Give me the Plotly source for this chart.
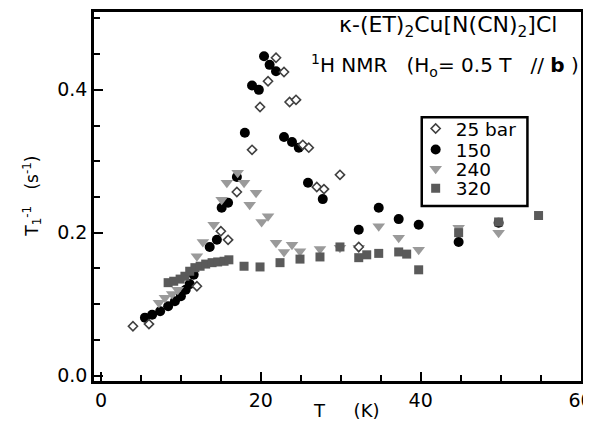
import plotly.graph_objects as go

# 25 bar (open diamonds)
T_25 = [4.0, 6.0, 12.0, 15.0, 15.9, 17.0, 18.9, 19.9, 20.9, 21.9, 22.9, 23.6, 24.4,
        25.25, 26.0, 27.0, 27.9, 29.9, 32.25]
R_25 = [0.069, 0.072, 0.125, 0.202, 0.190, 0.257, 0.316, 0.376, 0.412, 0.445, 0.425,
        0.383, 0.386, 0.323, 0.319, 0.264, 0.261, 0.281, 0.180]

# 150 bar (filled circles)
T_150 = [5.5, 6.4, 7.4, 8.4, 9.25, 10.0, 10.6, 11.1, 11.6, 13.6, 14.5, 15.1, 15.9, 17.0,
         18.0, 18.9, 19.75, 20.4, 21.1, 21.9, 22.9, 23.9, 24.75, 25.9, 27.75, 32.25,
         34.75, 37.25, 39.75, 44.75, 49.75]
R_150 = [0.081, 0.085, 0.090, 0.097, 0.104, 0.111, 0.120, 0.128, 0.141, 0.180, 0.190,
         0.235, 0.242, 0.278, 0.340, 0.406, 0.400, 0.447, 0.435, 0.426, 0.334, 0.327,
         0.319, 0.270, 0.247, 0.204, 0.235, 0.219, 0.211, 0.187, 0.214]

# 240 bar (down triangles)
T_240 = [7.25, 8.0, 8.9, 9.6, 12.0, 12.75, 14.1, 15.1, 15.75, 17.1, 17.9, 19.4, 18.6,
         20.9, 20.1, 21.9, 22.9, 23.9, 24.9, 27.4, 29.9, 32.25, 34.75, 37.25, 39.75,
         44.75, 49.75]
R_240 = [0.102, 0.109, 0.114, 0.120, 0.167, 0.187, 0.211, 0.246, 0.270, 0.284, 0.270,
         0.256, 0.239, 0.223, 0.215, 0.186, 0.173, 0.183, 0.174, 0.177, 0.179, 0.179,
         0.209, 0.193, 0.176, 0.207, 0.200]

# 320 bar (filled squares)
T_320 = [8.4, 9.1, 9.9, 10.5, 11.1, 11.75, 12.4, 13.1, 13.9, 14.6, 15.4, 16.0, 17.9,
         19.9, 22.4, 24.9, 27.4, 29.9, 32.25, 33.25, 34.75, 37.25, 38.25, 39.75, 44.75,
         49.75, 54.75]
R_320 = [0.130, 0.132, 0.135, 0.139, 0.146, 0.151, 0.153, 0.156, 0.158, 0.159, 0.160,
         0.162, 0.153, 0.152, 0.158, 0.163, 0.166, 0.180, 0.165, 0.169, 0.171, 0.173,
         0.170, 0.148, 0.200, 0.215, 0.224]

X_TICKS = [0, 20, 40, 60]
Y_TICKS = [0.0, 0.2, 0.4]
X_TICK_TEXT = ["0", "20", "40", "60"]
Y_TICK_TEXT = ["0.0", "0.2", "0.4"]

FONT = "DejaVu Sans, Liberation Sans, Arial, sans-serif"

fig = go.Figure()
fig.add_trace(go.Scatter(x=T_150, y=R_150, mode="markers", name="150", legend="legend2",
                         marker=dict(symbol="circle", size=10, color="black")))
fig.add_trace(go.Scatter(x=T_240, y=R_240, mode="markers", name="240", legend="legend3",
                         marker=dict(symbol="triangle-down", size=11, color="#9a9a9a")))
fig.add_trace(go.Scatter(x=T_320, y=R_320, mode="markers", name="320", legend="legend4",
                         marker=dict(symbol="square", size=9, color="#5a5a5a")))
fig.add_trace(go.Scatter(x=T_25, y=R_25, mode="markers", name="25 bar", legend="legend",
                         marker=dict(symbol="diamond", size=7, color="white",
                                     line=dict(color="#404040", width=1.6))))

axis_common = dict(showline=True, linecolor="black", linewidth=2.5, mirror=True,
                   ticks="inside", tickcolor="black", tickwidth=2, ticklen=9,
                   showgrid=False, zeroline=False, automargin=False,
                   tickfont=dict(family=FONT, size=19, color="black"))

fig.update_xaxes(range=[-0.875, 60.06], tickvals=X_TICKS, ticktext=X_TICK_TEXT,
                 ticklabeloverflow="allow",
                 minor=dict(dtick=5, ticks="inside", ticklen=6, tickwidth=2,
                            tickcolor="black", showgrid=False),
                 **axis_common)
fig.update_yaxes(range=[-0.0077, 0.509], tickvals=Y_TICKS, ticktext=Y_TICK_TEXT,
                 minor=dict(dtick=0.05, ticks="inside", ticklen=6, tickwidth=2,
                            tickcolor="black", showgrid=False),
                 **axis_common)

leg_common = dict(x=0.6605, xanchor="left", yanchor="middle", borderwidth=0,
                  bgcolor="rgba(0,0,0,0)", itemwidth=30,
                  font=dict(family=FONT, size=18.5, color="black"))

fig.update_layout(
    width=575, height=423,
    margin=dict(l=86, r=1.5, t=4, b=50, autoexpand=False),
    paper_bgcolor="white", plot_bgcolor="white",
    font=dict(family=FONT, color="black"),
    showlegend=True,
    legend=dict(y=0.683, **leg_common),
    legend2=dict(y=0.626, **leg_common),
    legend3=dict(y=0.574, **leg_common),
    legend4=dict(y=0.521, **leg_common),
    shapes=[dict(type="rect", xref="paper", yref="paper", x0=0.673, x1=0.890,
                 y0=0.474, y1=0.715, line=dict(color="black", width=2.5),
                 fillcolor="rgba(0,0,0,0)", layer="above")],
    annotations=[
        dict(text="κ-(ET)<sub>2</sub>Cu[N(CN)<sub>2</sub>]Cl", xref="paper", yref="paper",
             x=0.955, y=0.962, xanchor="right", yanchor="middle", showarrow=False,
             font=dict(family=FONT, size=22, color="black")),
        dict(text="<sup>1</sup>H NMR   (H<sub>o</sub>= 0.5 T   // <b>b</b> )", xref="paper",
             yref="paper", x=1.0, y=0.856, xanchor="right", yanchor="middle",
             showarrow=False, font=dict(family=FONT, size=20, color="black")),
        dict(text="T     (K)", xref="paper", yref="paper", x=0.518, y=-0.079,
             xanchor="center", yanchor="middle", showarrow=False,
             font=dict(family=FONT, size=18, color="black")),
        dict(text="T<sub>1</sub><sup>-1</sup>   (s<sup>-1</sup>)", xref="paper",
             yref="paper", x=-0.127, y=0.50, xanchor="center", yanchor="middle",
             textangle=-90, showarrow=False,
             font=dict(family=FONT, size=17, color="black")),
    ],
)

fig.write_html("out.html")
